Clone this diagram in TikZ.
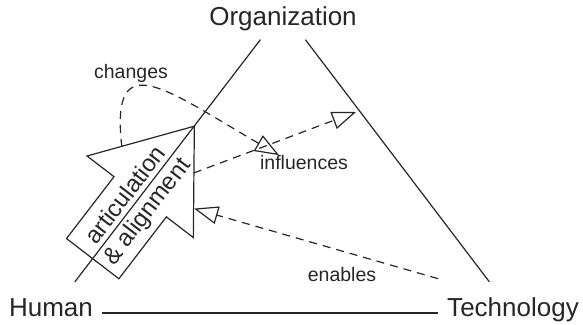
\documentclass[tikz,border=0pt]{standalone}
\usepackage{fontspec}
\setmainfont{Liberation Sans}
\usepackage{tikz}
\usetikzlibrary{arrows.meta}

\begin{document}
\begin{tikzpicture}[x=1pt, y=1pt, color=black!85,
    corner/.style={font=\fontsize{26}{30}\selectfont, text height=15.6pt, text depth=9.6pt, inner xsep=9pt, inner ysep=0pt, anchor=base},
    lbl/.style={font=\fontsize{19.5}{22}\selectfont, inner sep=0pt, anchor=base},
    aatext/.style={font=\fontsize{24}{26.5}\selectfont, align=center, inner sep=0pt},
    side/.style={line width=1.2pt},
    link/.style={line width=1.2pt, dash pattern=on 8pt off 6pt, -{Triangle[length=24pt, width=18pt, fill=white]}}]
    \useasboundingbox (0,0) rectangle (583,324);
    \node[corner] (org) at (283,298) {Organization};
    \node[corner] (hum) at (51,8) {Human};
    \node[corner] (tech) at (513,8) {Technology};
    \draw[side] (hum) -- (tech);
    \draw[side, shorten <=37pt, shorten >=23pt] (org.north) -- (hum);
    \draw[side, shorten <=37pt, shorten >=23pt] (org.north) -- (tech);
    \begin{scope}[shift={(hum)}, rotate=52.5]
        \draw[side] (68.5,33) -- (146.5,33) -- (146.5,67) -- (235.5,0) -- (146.5,-67) -- (146.5,-33) -- (68.5,-33) -- cycle;
        \node[aatext, rotate=52.5] (aa) at (139,-2) {articulation\\\& alignment};
        \coordinate (aa-chg) at (175,45);
        \coordinate (aa-infl) at (198,-28);
        \coordinate (aa-enb) at (170,-50);
    \end{scope}
    \node[lbl] (chg) at (131,245) {changes};
    \node[lbl] (infl) at (304,154.5) {influences};
    \node[lbl] (enb) at (342,42.5) {enables};
    \coordinate (infl-end) at (356,212);
    \draw[link] (aa-chg) .. controls (110,280) and (165,235) .. ([xshift=-25pt]infl.north);
    \draw[link] (aa-infl) -- (infl-end);
    \draw[link, shorten <=78pt] (tech.north) -- (aa-enb);
\end{tikzpicture}
\end{document}
